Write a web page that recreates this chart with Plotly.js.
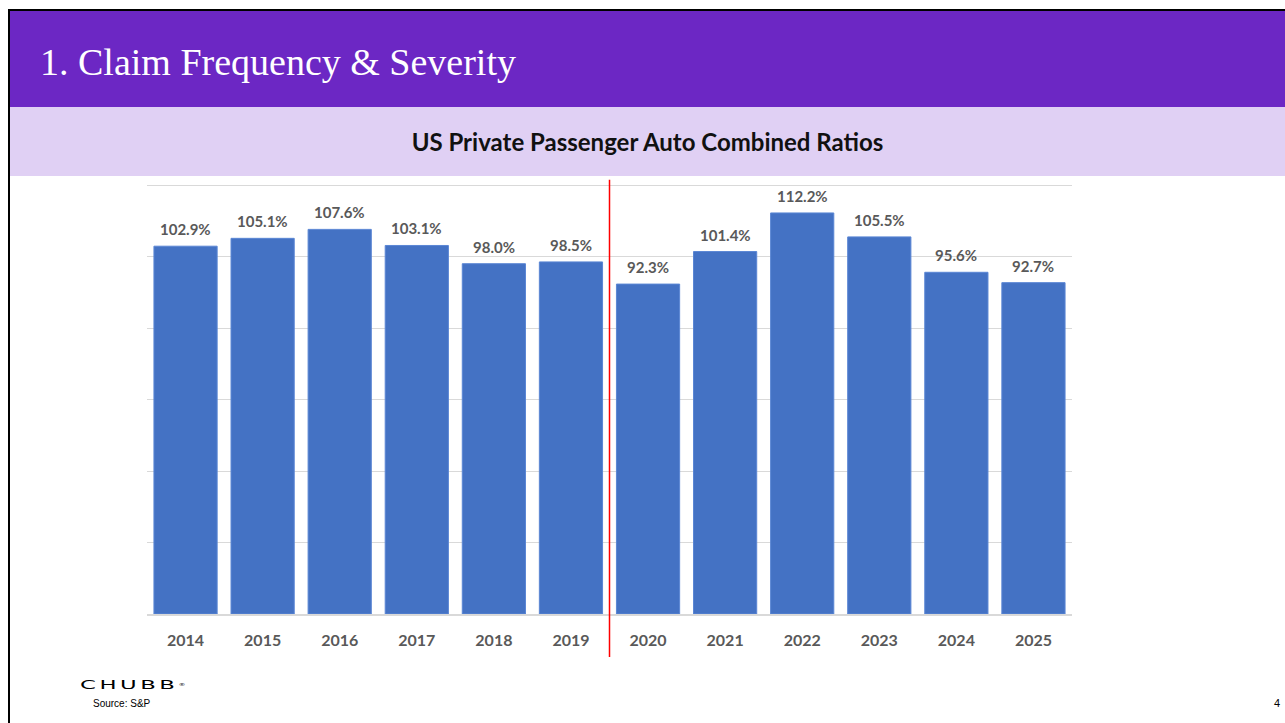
<!DOCTYPE html>
<html>
<head>
<meta charset="utf-8">
<script src="https://cdn.plot.ly/plotly-3.0.1.min.js"></script>
<style>
  html, body { margin:0; padding:0; width:1285px; height:723px; overflow:hidden; background:#fff; }
  #frame { position:absolute; left:0; top:0; width:1285px; height:723px; }
  #topbar { position:absolute; left:8px; top:9px; width:1277px; height:2px; background:#000; }
  #leftbar { position:absolute; left:8px; top:9px; width:2px; height:714px; background:#000; }
  #band1 { position:absolute; left:10px; top:11px; width:1275px; height:96px; background:#6c27c4; }
  #band1 span { position:absolute; left:30px; top:29px; font-family:"Liberation Serif", "DejaVu Serif", serif; font-size:38px; color:#fff; white-space:nowrap; }
  #band2 { position:absolute; left:10px; top:107px; width:1275px; height:69px; background:#e0d0f4; }
  #band2 span { position:absolute; left:0; width:1275px; top:20px; text-align:center; font-family:Lato, sans-serif; font-weight:700; font-size:24px; color:#111; }
  #chart { position:absolute; left:0; top:0; width:1285px; height:723px; }
  #logo { position:absolute; left:80px; top:678px; font-family:"DejaVu Sans", sans-serif; font-size:13px; line-height:13px; letter-spacing:2px; font-weight:400; color:#000; transform-origin:left top; transform:scale(1.75,1); white-space:nowrap; }
  #logo sup { font-size:4px; letter-spacing:0; vertical-align:top; }
  #src { position:absolute; left:93px; top:698px; font-family:"Liberation Sans", sans-serif; font-size:10px; color:#000; }
  #pg { position:absolute; left:1274px; top:697px; font-family:"Liberation Sans", sans-serif; font-size:11px; color:#000; }
</style>
</head>
<body>
<div id="frame">
  <div id="band1"><span>1. Claim Frequency &amp; Severity</span></div>
  <div id="band2"><span>US Private Passenger Auto Combined Ratios</span></div>
  <div id="topbar"></div>
  <div id="leftbar"></div>
  <div id="chart"></div>
  <div id="logo">CHUBB<sup>®</sup></div>
  <div id="src">Source: S&amp;P</div>
  <div id="pg">4</div>
</div>
<script>
const years = ['2014','2015','2016','2017','2018','2019','2020','2021','2022','2023','2024','2025'];
const ratios = [102.9, 105.1, 107.6, 103.1, 98.0, 98.5, 92.3, 101.4, 112.2, 105.5, 95.6, 92.7];
const labels = ratios.map(v => v.toFixed(1) + '%');

const trace = {
  type: 'bar',
  x: years,
  y: ratios,
  marker: { color: '#4472c4', line: { color: '#5a86d4', width: 1 } },
  hoverinfo: 'none'
};

const annotations = years.map((yr, i) => ({
  x: i, y: ratios[i], xref: 'x', yref: 'y',
  text: labels[i], showarrow: false, yanchor: 'middle', yshift: 17,
  font: { family: 'Lato, sans-serif', size: 15, color: '#595959', weight: 700 }
}));

const layout = {
  width: 1285, height: 723,
  margin: { l: 147, r: 213, t: 184, b: 109, pad: 0 },
  paper_bgcolor: 'rgba(0,0,0,0)',
  plot_bgcolor: 'rgba(0,0,0,0)',
  bargap: 0.18,
  showlegend: false,
  xaxis: {
    type: 'category',
    categoryorder: 'array', categoryarray: years,
    range: [-0.5, years.length - 0.5],
    showgrid: false, zeroline: false,
    showline: true, linecolor: '#d9d9d9', linewidth: 2,
    ticks: 'outside', ticklen: 11, tickcolor: 'rgba(0,0,0,0)',
    tickfont: { family: 'Lato, sans-serif', size: 16, color: '#595959', weight: 700 },
    fixedrange: true
  },
  yaxis: {
    range: [0, 120.3], dtick: 20, tick0: 0,
    showgrid: true, gridcolor: '#d9d9d9', gridwidth: 1,
    zeroline: false, showticklabels: false, showline: false,
    fixedrange: true
  },
  annotations: annotations,
  shapes: [{
    type: 'line', xref: 'x', yref: 'paper', layer: 'above',
    x0: 5.5, x1: 5.5, y0: -0.1, y1: 1.01,
    line: { color: 'rgb(255,0,0)', width: 1.5 }
  }]
};

Plotly.newPlot('chart', [trace], layout, { displayModeBar: false, staticPlot: true });
</script>
</body>
</html>
